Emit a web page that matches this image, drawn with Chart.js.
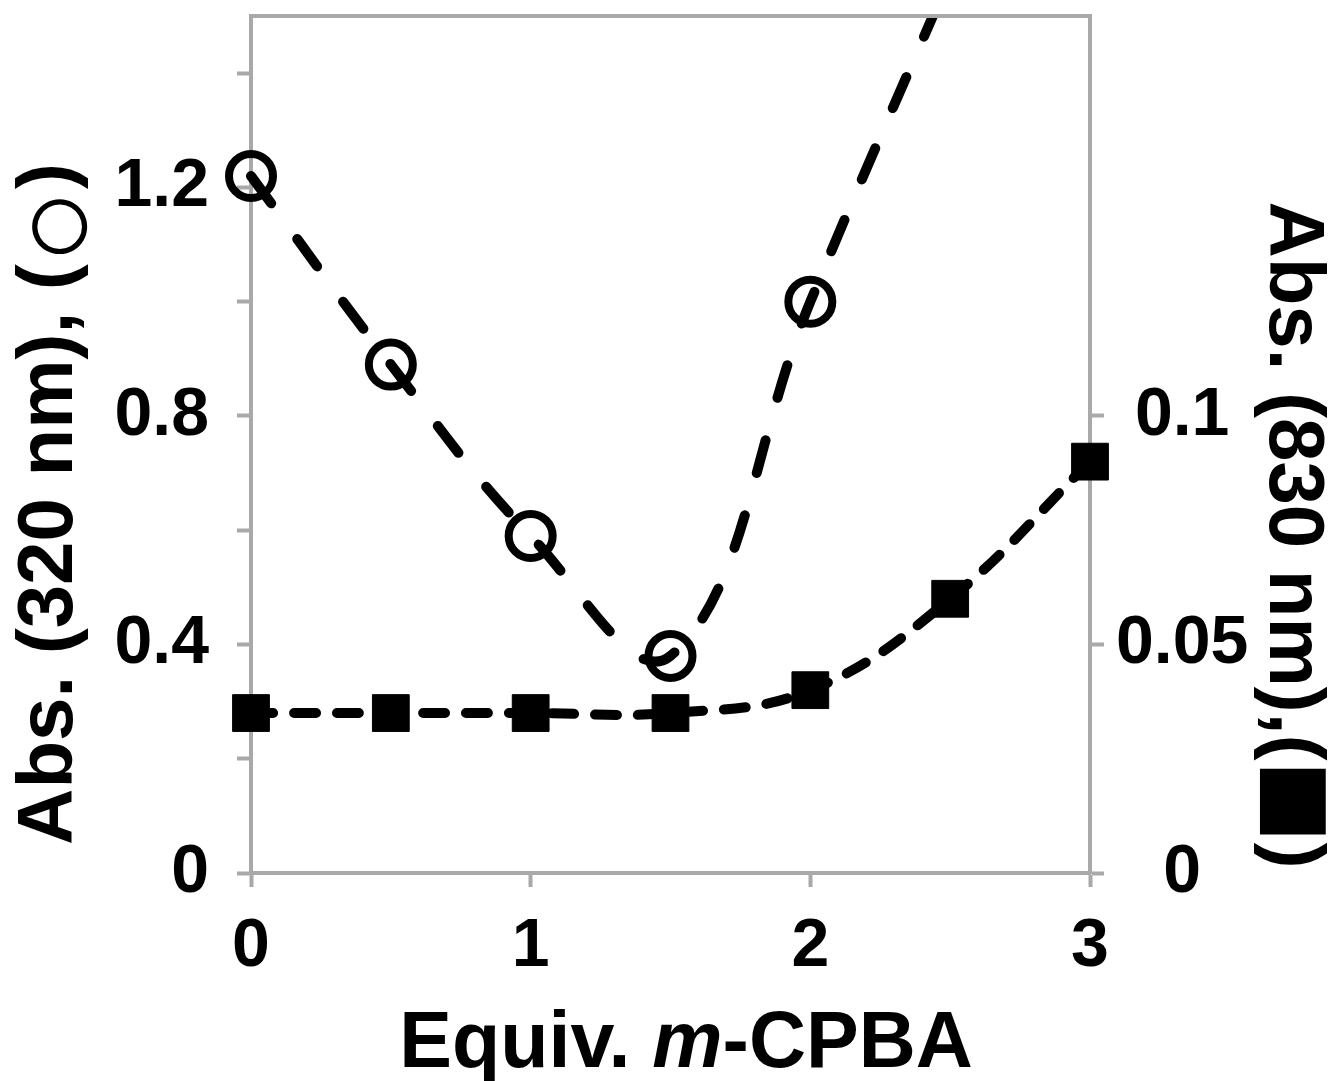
<!DOCTYPE html>
<html>
<head>
<meta charset="utf-8">
<script src="https://cdn.jsdelivr.net/npm/chart.js@4.4.1/dist/chart.umd.min.js"></script>
<style>
  html, body { margin: 0; padding: 0; background: #fff; }
  #wrap { width: 1333px; height: 1081px; }
</style>
</head>
<body>
<div id="wrap"><canvas id="chart" width="1333" height="1081"></canvas></div>
<script>
// absorbance at 320 nm (open circles, left axis)
var equiv320 = [0, 0.5, 1, 1.5, 2, 2.5];
var abs320 = [1.22, 0.89, 0.59, 0.38, 1.0, 1.57];
// absorbance at 830 nm (filled squares, right axis)
var equiv830 = [0, 0.5, 1, 1.5, 2, 2.5, 3];
var abs830 = [0.035, 0.035, 0.035, 0.035, 0.04, 0.06, 0.09];
// axis ticks
var xTicks = [0, 1, 2, 3];
var leftTicks = [0, 0.2, 0.4, 0.6, 0.8, 1.0, 1.2, 1.4];
var leftLabels = [0, 0.4, 0.8, 1.2];
var rightTicks = [0, 0.05, 0.1];

var GRAY = '#a9a9a9';
var FAMILY = '"Liberation Sans", Arial, sans-serif';
var TICK_FONT = { family: FAMILY, size: 68, weight: 'bold' };
var TITLE_SIZE = 78;

function pts(xs, ys) {
	return xs.map(function(x, i){ return { x: x, y: ys[i] }; });
}
function setTicks(values) {
	return function(scale) { scale.ticks = values.map(function(v){ return { value: v }; }); };
}
function noPad(size, key) {
	return function(s) {
		s[key] = size;
		s.paddingTop = 0; s.paddingBottom = 0;
		s.paddingLeft = 0; s.paddingRight = 0;
	};
}

// draws a run of text pieces centred on the origin; a piece with "box"
// is a symbol scaled so its ink is box px tall, centred at y = cy
function drawRuns(ctx, runs) {
	var total = 0;
	runs.forEach(function(r){
		if (r.box) {
			ctx.font = 'bold 100px ' + FAMILY;
			var m = ctx.measureText(r.text);
			var h = m.actualBoundingBoxAscent + m.actualBoundingBoxDescent;
			r.size = 100 * r.box / h;
			r.font = 'bold ' + r.size + 'px ' + FAMILY;
			ctx.font = r.font;
			m = ctx.measureText(r.text);
			r.dy = r.cy + (m.actualBoundingBoxAscent - m.actualBoundingBoxDescent) / 2;
			r.w = m.width;
		} else {
			ctx.font = r.font;
			r.w = ctx.measureText(r.text).width;
		}
		total += r.w;
	});
	var x = -total / 2;
	runs.forEach(function(r){
		ctx.font = r.font;
		ctx.fillText(r.text, x, r.dy || 0);
		x += r.w;
	});
}

var titles = {
	id: 'titles',
	afterDraw: function(chart) {
		var ctx = chart.ctx;
		var a = chart.chartArea;
		var bold = 'bold ' + TITLE_SIZE + 'px ' + FAMILY;
		var italic = 'italic bold 79px ' + FAMILY;
		ctx.save();
		ctx.fillStyle = '#000';
		ctx.textBaseline = 'alphabetic';
		ctx.textAlign = 'left';

		// x axis title
		ctx.save();
		ctx.translate(686, 1067);
		drawRuns(ctx, [
			{ text: 'Equiv. ', font: 'bold 79px ' + FAMILY },
			{ text: 'm', font: italic },
			{ text: '-CPBA', font: 'bold 79px ' + FAMILY }
		]);
		ctx.restore();

		// left axis title, reading upwards
		ctx.save();
		ctx.translate(72, 504);
		ctx.rotate(-Math.PI / 2);
		drawRuns(ctx, [
			{ text: 'Abs. (320 nm), (', font: bold },
			{ text: '\u25CB', box: 56, cy: -12 },
			{ text: ')', font: bold }
		]);
		ctx.restore();

		// right axis title, reading downwards
		ctx.save();
		ctx.translate(1270, 535);
		ctx.rotate(Math.PI / 2);
		drawRuns(ctx, [
			{ text: 'Abs. (830 nm),(', font: bold },
			{ text: '\u25A0', box: 68, cy: -22 },
			{ text: ')', font: bold }
		]);
		ctx.restore();

		// top frame line
		ctx.strokeStyle = GRAY;
		ctx.lineWidth = 4;
		ctx.beginPath();
		ctx.moveTo(a.left - 2, a.top);
		ctx.lineTo(a.right + 2, a.top);
		ctx.stroke();
		ctx.restore();
	}
};

new Chart(document.getElementById('chart'), {
	type: 'line',
	data: {
		datasets: [
			{
				label: 'Abs. 320 nm',
				data: pts(equiv320, abs320),
				yAxisID: 'y',
				borderColor: '#000',
				borderWidth: 10,
				borderDash: [34, 44],
				borderCapStyle: 'round',
				tension: 0.4,
				fill: false,
				pointStyle: 'circle',
				pointRadius: 22,
				pointBorderWidth: 8,
				pointBorderColor: '#000',
				pointBackgroundColor: 'rgba(0,0,0,0)',
				clip: { left: 40, top: 0, right: 40, bottom: 40 }
			},
			{
				label: 'Abs. 830 nm',
				data: pts(equiv830, abs830),
				yAxisID: 'y2',
				borderColor: '#000',
				borderWidth: 10,
				borderDash: [22, 21],
				borderCapStyle: 'round',
				tension: 0.4,
				fill: false,
				pointStyle: 'rect',
				pointRadius: 26,
				pointBorderWidth: 1,
				pointBorderColor: '#000',
				pointBackgroundColor: '#000',
				clip: { left: 40, top: 0, right: 40, bottom: 40 }
			}
		]
	},
	options: {
		responsive: false,
		devicePixelRatio: 1,
		animation: false,
		layout: { autoPadding: false, padding: { top: 16, left: 0, right: 0, bottom: 0 } },
		elements: { line: { capBezierPoints: false } },
		plugins: {
			legend: { display: false },
			tooltip: { enabled: false }
		},
		scales: {
			x: {
				type: 'linear',
				min: 0,
				max: 3,
				afterBuildTicks: setTicks(xTicks),
				afterFit: noPad(208, 'height'),
				ticks: { color: '#000', font: TICK_FONT, padding: 19 },
				grid: { drawOnChartArea: false, tickLength: 14, tickWidth: 4, tickColor: GRAY },
				border: { color: GRAY, width: 4 }
			},
			y: {
				position: 'left',
				min: 0,
				max: 1.5,
				afterBuildTicks: setTicks(leftTicks),
				afterFit: noPad(251, 'width'),
				ticks: {
					color: '#000',
					font: TICK_FONT,
					padding: 28,
					callback: function(v) {
						var hit = leftLabels.some(function(l){ return Math.abs(l - v) < 1e-6; });
						return hit ? String(+v.toFixed(1)) : '';
					}
				},
				grid: { drawOnChartArea: false, tickLength: 14, tickWidth: 4, tickColor: GRAY },
				border: { color: GRAY, width: 4 }
			},
			y2: {
				position: 'right',
				min: 0,
				max: 0.1875,
				afterBuildTicks: setTicks(rightTicks),
				afterFit: noPad(243, 'width'),
				ticks: {
					color: '#000',
					font: TICK_FONT,
					padding: 12,
					crossAlign: 'center',
					callback: function(v){ return String(+v.toFixed(2)); }
				},
				grid: { drawOnChartArea: false, tickLength: 14, tickWidth: 4, tickColor: GRAY },
				border: { color: GRAY, width: 4 }
			}
		}
	},
	plugins: [titles]
});
</script>
</body>
</html>
